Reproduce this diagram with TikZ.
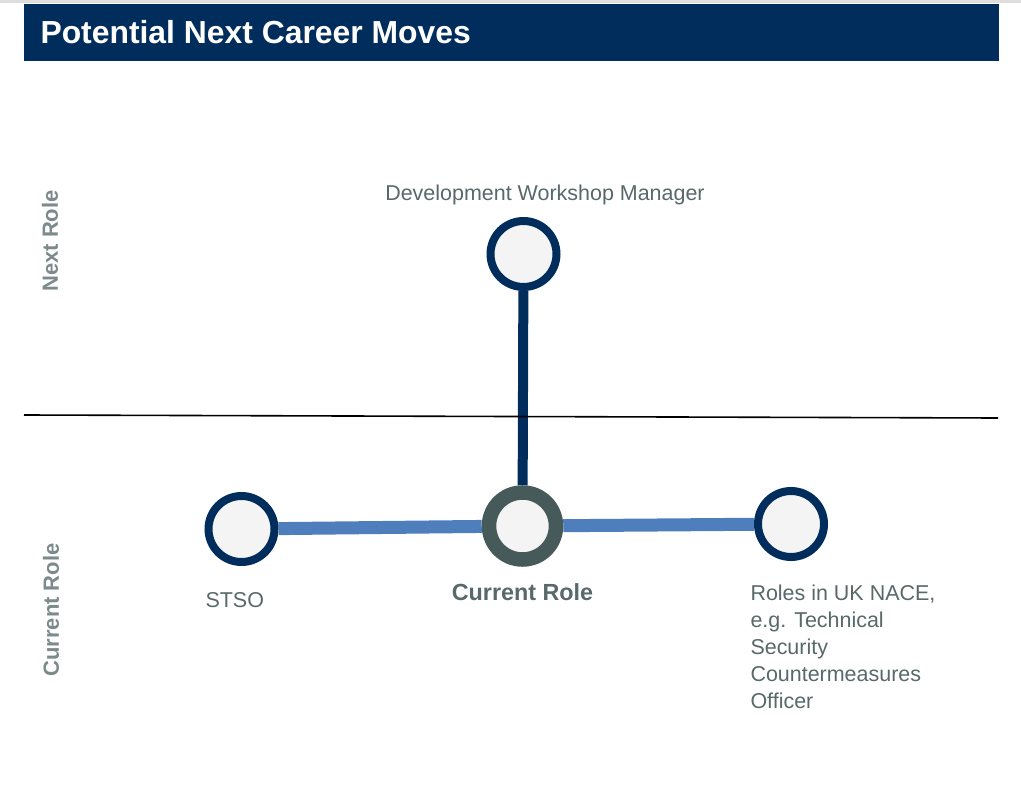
\documentclass[tikz,border=0pt]{standalone}
\usepackage{fontspec}
\setmainfont{Liberation Sans}
\usetikzlibrary{backgrounds}

\tikzset{every picture/.style={line width=0.75pt}}
\tikzset{
	role circle/.style={circle, draw={rgb, 255:red, 0; green, 45; blue, 92}, fill={rgb, 255:red, 244; green, 244; blue, 244}, line width=6pt, minimum size=49.5pt, inner sep=0pt},
	current circle/.style={role circle, draw={rgb, 255:red, 71; green, 90; blue, 90}, line width=10.9pt, minimum size=50.25pt},
	path up/.style={draw={rgb, 255:red, 0; green, 45; blue, 92}, line width=7.5pt},
	path side/.style={draw={rgb, 255:red, 79; green, 126; blue, 189}, line width=9.75pt},
	role text/.style={inner sep=0pt, color={rgb, 255:red, 89; green, 104; blue, 104}, font=\fontsize{16.1}{20.25}\selectfont},
	axis text/.style={inner sep=0pt, rotate=90, color={rgb, 255:red, 124; green, 138; blue, 138}, font=\bfseries\fontsize{16.5}{20}\selectfont}}

\begin{document}
\begin{tikzpicture}[x=0.75pt,y=0.75pt,yscale=-1,xscale=1]
	\useasboundingbox (0,0) rectangle (1021,795);
	
	%Straight Lines: top rule
	\draw [color={rgb, 255:red, 222; green, 222; blue, 222}, line width=2.25pt] (0,1.5) -- (1021,1.5);
	%Shape: Rectangle
	\draw [draw=none, fill={rgb, 255:red, 0; green, 45; blue, 92}] (24,4) rectangle (999,61);
	% Text Node
	\node (title) [anchor=base west, inner sep=0pt, text=white, font=\bfseries\fontsize{23.9}{28}\selectfont] at (40,44) {Potential Next Career Moves};
	
	%Straight Lines: divider
	\draw [line width=1.2pt] (24,415) -- (998,418);
	
	%Flowchart: Connector
	\node (dwm) [role circle] at (523.5,254) {};
	\node (cur) [current circle] at (522.5,526) {};
	\node (stso) [role circle] at (241.5,529) {};
	\node (nace) [role circle] at (791,524) {};
	
	%Straight Lines
	\begin{scope}[on background layer]
		\draw [path up] (dwm) -- (cur);
		\draw [path side] (stso) -- (cur);
		\draw [path side] (cur) -- (nace);
	\end{scope}
	
	% Text Node
	\node (dwmlabel) [role text, anchor=base] at (545,200) {Development Workshop Manager};
	% Text Node
	\node (stsolabel) [role text, anchor=base west] at (205,607) {STSO};
	% Text Node
	\node (curlabel) [role text, anchor=base, font=\bfseries\fontsize{17.5}{21}\selectfont] at (522.5,600) {Current Role};
	% Text Node
	\node (nacelabel) [role text, anchor=north west, align=left] at (750,584) {Roles in UK NACE,\\e.g. Technical\\Security\\Countermeasures\\Officer};
	% Text Node
	\node (nextaxis) [axis text] at (50,241) {Next Role};
	% Text Node
	\node (curaxis) [axis text] at (51,610) {Current Role};
	
\end{tikzpicture}
\end{document}
